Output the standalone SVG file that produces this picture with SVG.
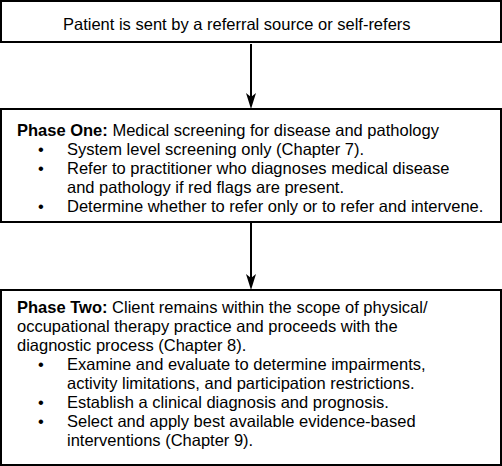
<svg xmlns="http://www.w3.org/2000/svg" width="502" height="466" viewBox="0 0 502 466">
<style>
.box{fill:#fff;stroke:#000;stroke-width:2}
text{font-family:"Liberation Sans",Arial,sans-serif;font-size:16.5px;fill:#000}
.b{font-weight:bold}
.con{stroke:#000;stroke-width:2;fill:none}
.ah{fill:#000}
</style>
<rect width="502" height="466" fill="#fff"/>
<g id="connectors">
<line class="con" x1="251" y1="44" x2="251" y2="100"/>
<path class="ah" d="M246,93 L251,97 L256,93 L251,109 Z"/>
<line class="con" x1="251" y1="223" x2="251" y2="281"/>
<path class="ah" d="M246,274 L251,278 L256,274 L251,290 Z"/>
</g>
<g id="start">
<rect class="box" x="1" y="1" width="500" height="41"/>
<text x="63" y="30">Patient is sent by a referral source or self-refers</text>
</g>
<g id="phase1">
<rect class="box" x="1" y="109" width="500" height="113"/>
<text x="17" y="136"><tspan class="b">Phase One:</tspan> Medical screening for disease and pathology</text>
<text x="38" y="155">•</text><text x="67" y="155">System level screening only (Chapter 7).</text>
<text x="38" y="174">•</text><text x="67" y="174">Refer to practitioner who diagnoses medical disease</text>
<text x="67" y="193">and pathology if red flags are present.</text>
<text x="38" y="212">•</text><text x="67" y="212">Determine whether to refer only or to refer and intervene.</text>
</g>
<g id="phase2">
<rect class="box" x="1" y="290" width="500" height="175"/>
<text x="17" y="313"><tspan class="b">Phase Two:</tspan> Client remains within the scope of physical/</text>
<text x="17" y="332">occupational therapy practice and proceeds with the</text>
<text x="17" y="351">diagnostic process (Chapter 8).</text>
<text x="38" y="370">•</text><text x="67" y="370">Examine and evaluate to determine impairments,</text>
<text x="67" y="389">activity limitations, and participation restrictions.</text>
<text x="38" y="408">•</text><text x="67" y="408">Establish a clinical diagnosis and prognosis.</text>
<text x="38" y="427">•</text><text x="67" y="427">Select and apply best available evidence-based</text>
<text x="67" y="446">interventions (Chapter 9).</text>
</g>
</svg>
